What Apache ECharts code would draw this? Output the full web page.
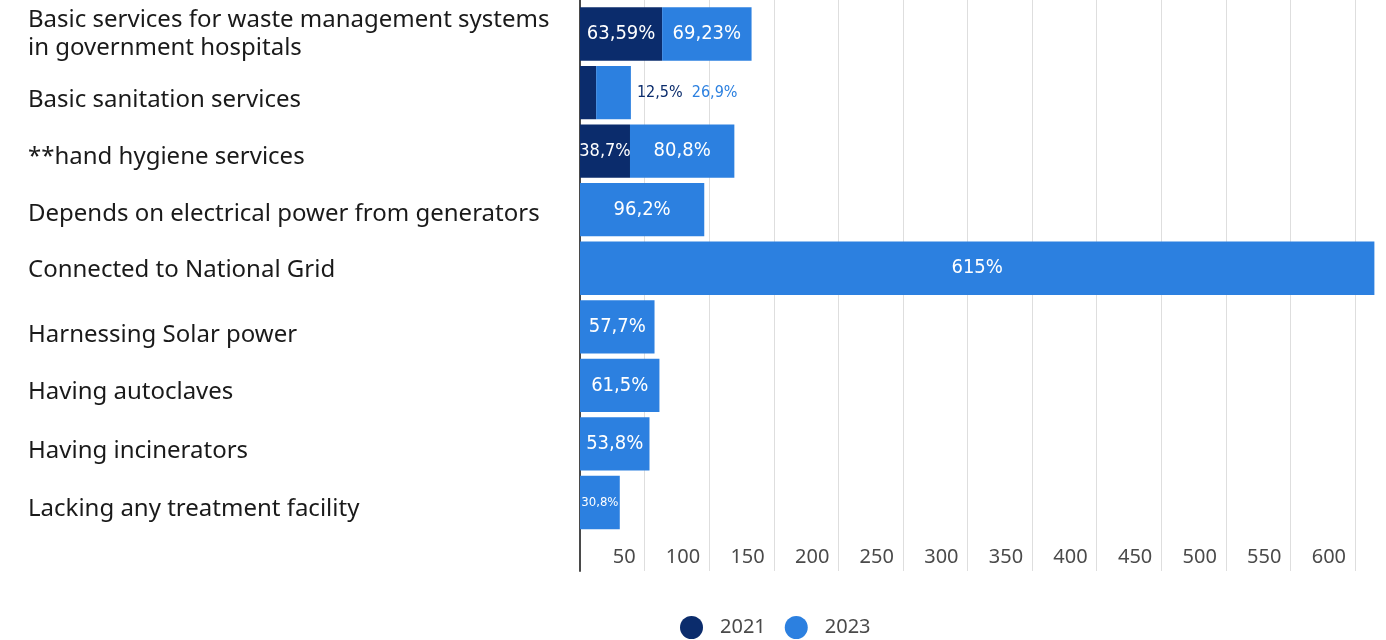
<!DOCTYPE html>
<html>
<head>
<meta charset="utf-8">
<script src="https://cdn.jsdelivr.net/npm/echarts@6/dist/echarts.min.js"></script>
<style>
  html, body { margin: 0; padding: 0; background: #ffffff; }
  #chart { width: 1386px; height: 640px; }
</style>
</head>
<body>
<div id="chart"></div>
<script>
// Hospital services and infrastructure, shares by year
const categories = [
  'Basic services for waste management systems\nin government hospitals',
  'Basic sanitation services',
  '**hand hygiene services',
  'Depends on electrical power from generators',
  'Connected to National Grid',
  'Harnessing Solar power',
  'Having autoclaves',
  'Having incinerators',
  'Lacking any treatment facility'
];
const seriesNames = ['2021', '2023'];
const values2021 = [63.59, 12.5, 38.7, null, null, null, null, null, null];
const values2023 = [69.23, 26.9, 80.8, 96.2, 615, 57.7, 61.5, 53.8, 30.8];

// value axis: ticks every 50, labelled from 50 to 600
const axisMin = 0;
const axisMax = 650;
const axisStep = 50;
const lastTickLabel = 600;

const COLOR_2021 = '#0b2c6c';
const COLOR_2023 = '#2c80e0';
const LABEL_FONT = '"DejaVu Sans Condensed", "DejaVu Sans", sans-serif';
const LABEL_STRETCH = 'condensed';
const TEXT_FONT = '"Noto Sans", "Open Sans", sans-serif';

// rows whose segments are too short to hold their own labels
const narrowRows = [1];
// smaller label text where a segment is short: [series][row] -> font size
const smallLabelSize = [{ 2: 18 }, { 8: 13 }];
const defaultLabelSize = 20;
// small downward nudge of each category caption (px)
const captionShift = [0, 8, 6, 4, 2, 8, 7, 7, 7];

const fmt = v => String(v).replace('.', ',') + '%';

function labelFor(s, i) {
  return {
    show: true,
    position: 'inside',
    color: '#ffffff',
    fontFamily: LABEL_FONT,
    fontWeight: LABEL_STRETCH,
    fontSize: smallLabelSize[s][i] || defaultLabelSize,
    formatter: p => fmt(p.value)
  };
}

const data2021 = values2021.map((v, i) => {
  if (v == null) return { value: null };
  const item = { value: v, label: labelFor(0, i) };
  if (narrowRows.includes(i)) item.label = { show: false };
  return item;
});

const data2023 = values2023.map((v, i) => {
  if (v == null) return { value: null };
  const item = { value: v, label: labelFor(1, i) };
  if (narrowRows.includes(i)) {
    const rs = { fontFamily: LABEL_FONT, fontWeight: LABEL_STRETCH, fontSize: 16 };
    item.label = {
      show: true,
      position: 'right',
      distance: 6,
      fontFamily: LABEL_FONT,
      fontWeight: LABEL_STRETCH,
      fontSize: 16,
      formatter: () => '{a|' + fmt(values2021[i]) + '}  {b|' + fmt(v) + '}',
      rich: {
        a: Object.assign({ color: COLOR_2021 }, rs),
        b: Object.assign({ color: COLOR_2023 }, rs)
      }
    };
  }
  return item;
});

// captions are left-aligned at the chart's left edge; single-line captions
// sit a few pixels below the bar centre
const categoryData = categories.map((c, i) => {
  const s = captionShift[i];
  const textStyle = s > 0
    ? { align: 'left', verticalAlign: 'top', lineHeight: s * 2 }
    : { align: 'left', verticalAlign: 'middle', lineHeight: 28 };
  return { value: c, textStyle };
});

const chart = echarts.init(document.getElementById('chart'), null, { renderer: 'canvas' });

const gridLeft = 580;
const gridWidth = 839.6;

chart.setOption({
  animation: false,
  backgroundColor: '#ffffff',
  grid: [
    // bars
    { left: gridLeft, width: gridWidth, top: 4.7, bottom: 108.2, outerBoundsMode: 'none', containLabel: false },
    // value axis with its grid lines, running the full height
    { left: gridLeft, width: gridWidth, top: 0, bottom: 69, outerBoundsMode: 'none', containLabel: false }
  ],
  legend: {
    data: seriesNames,
    left: 675,
    top: 611,
    icon: 'circle',
    itemWidth: 23,
    itemHeight: 23,
    itemGap: 19,
    textStyle: {
      color: '#4a4a4a',
      fontFamily: TEXT_FONT,
      fontSize: 20,
      padding: [0, 0, 0, 12]
    }
  },
  xAxis: [
    {
      gridIndex: 0, type: 'value', min: axisMin, max: axisMax, interval: axisStep,
      show: false
    },
    {
      gridIndex: 1, type: 'value', min: axisMin, max: axisMax, interval: axisStep,
      position: 'bottom',
      axisLine: { show: false },
      axisTick: { show: false },
      splitLine: { show: true, lineStyle: { color: '#dedede', width: 1 } },
      axisLabel: {
        inside: true,
        margin: 4,
        align: 'right',
        padding: [0, 9, 0, 0],
        color: '#4a4a4a',
        fontFamily: TEXT_FONT,
        fontSize: 20,
        formatter: v => (v === 0 || v > lastTickLabel ? '' : String(v))
      }
    }
  ],
  yAxis: [
    {
      gridIndex: 0, type: 'category', data: categoryData, inverse: true,
      axisLine: { show: false },
      axisTick: { show: false },
      splitLine: { show: false },
      axisLabel: {
        align: 'left',
        margin: 552,
        color: '#1a1a1a',
        fontFamily: TEXT_FONT,
        fontSize: 24,
        lineHeight: 28
      }
    },
    {
      gridIndex: 1, type: 'value', min: 0, max: 1,
      axisLine: { show: true, lineStyle: { color: '#4a4a4a', width: 2 } },
      axisTick: { show: false },
      axisLabel: { show: false },
      splitLine: { show: false }
    }
  ],
  series: [
    {
      name: seriesNames[0], type: 'bar', stack: 'total',
      xAxisIndex: 0, yAxisIndex: 0,
      barWidth: '91%',
      itemStyle: { color: COLOR_2021 },
      data: data2021,
      z: 3
    },
    {
      name: seriesNames[1], type: 'bar', stack: 'total',
      xAxisIndex: 0, yAxisIndex: 0,
      barWidth: '91%',
      itemStyle: { color: COLOR_2023 },
      data: data2023,
      z: 3
    }
  ]
});
</script>
</body>
</html>
